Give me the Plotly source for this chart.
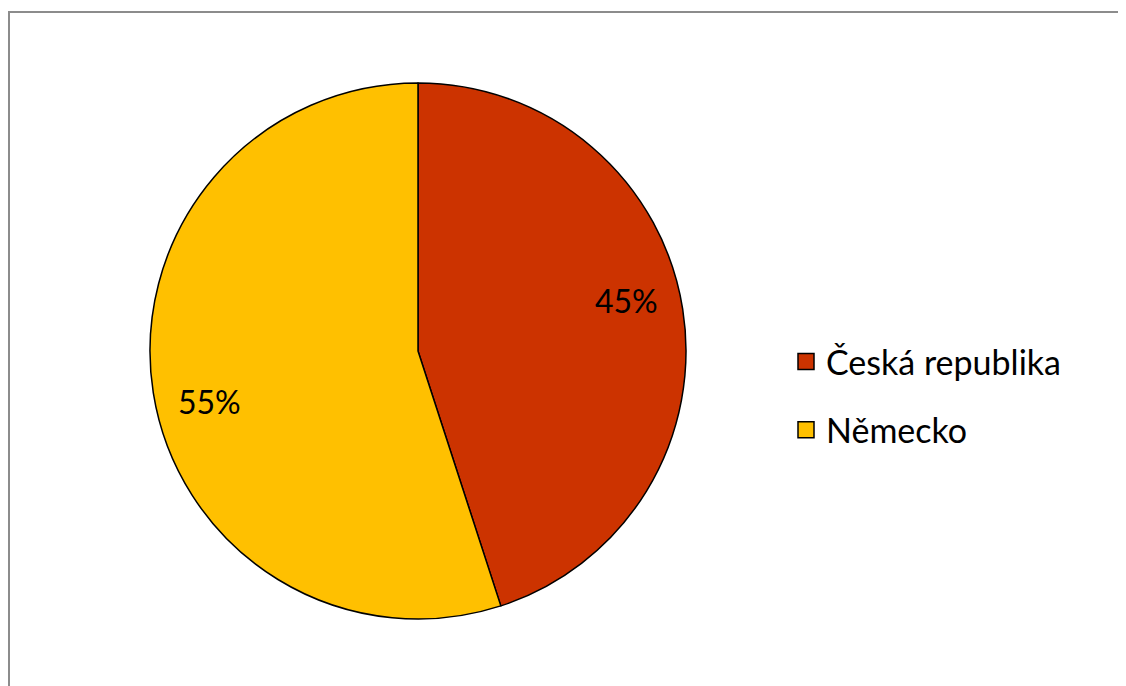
import math
import plotly.graph_objects as go

W, H = 1126, 686
FONT = "Lato"

countries = ["Česká republika", "Německo"]
shares = [45, 55]
colors = ["#CC3300", "#FFC000"]

# pie geometry in pixels (page body adds an 8px offset)
CX, CY, R = 410, 343, 268

fig = go.Figure()
fig.add_trace(go.Pie(
    labels=countries, values=shares, sort=False, direction="clockwise",
    marker=dict(colors=colors, line=dict(color="black", width=1.5)),
    textinfo="none", hoverinfo="label+percent", showlegend=False,
    domain=dict(x=[(CX - R) / W, (CX + R) / W], y=[1 - (CY + R) / H, 1 - (CY - R) / H]),
))

# legend entries as dummy traces so the swatch size and spacing can be set
for name, col in zip(countries, colors):
    fig.add_trace(go.Scatter(
        x=[None], y=[None], mode="markers", name=name, legendgroup=name,
        marker=dict(symbol="square", size=16, color=col, line=dict(color="black", width=1.5)),
    ))

# percentage labels placed along each slice's mid-angle
total = sum(shares)
cum = 0
annotations = []
for v in shares:
    mid = (cum + v / 2) / total * 360 - 4.5
    cum += v
    a = math.radians(mid)
    px = CX + 0.8 * R * math.sin(a)
    py = CY - 0.8 * R * math.cos(a)
    annotations.append(dict(
        x=px / W, y=1 - py / H, xref="paper", yref="paper",
        xanchor="center", yanchor="middle",
        text=f"{round(v / total * 100)}%", showarrow=False,
        font=dict(family=FONT, size=32, color="black"),
    ))

fig.update_layout(
    width=W, height=H,
    margin=dict(l=0, r=0, t=0, b=0),
    paper_bgcolor="white", plot_bgcolor="white",
    xaxis=dict(visible=False), yaxis=dict(visible=False),
    annotations=annotations,
    legend=dict(
        x=778 / W, y=1 - 325 / H, xanchor="left", yanchor="top",
        font=dict(family=FONT, size=34, color="black"),
        tracegroupgap=21, itemsizing="trace",
    ),
    shapes=[
        dict(type="line", xref="paper", yref="paper", x0=1 / W, x1=1.0, y0=1 - 4 / H, y1=1 - 4 / H,
             line=dict(color="#8c8c8c", width=2)),
        dict(type="line", xref="paper", yref="paper", x0=1 / W, x1=1 / W, y0=1 - 3 / H, y1=0,
             line=dict(color="#8c8c8c", width=2)),
    ],
)

fig.write_html("out.html")
